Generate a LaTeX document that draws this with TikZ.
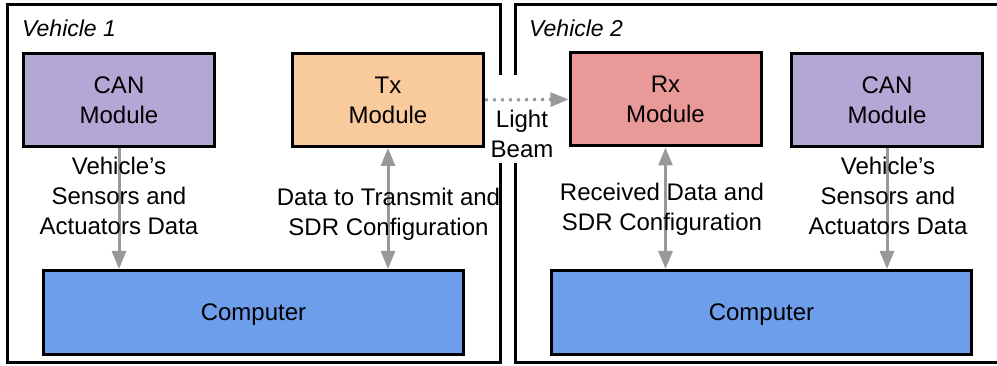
\documentclass[tikz,border=0pt]{standalone}
\usepackage{fontspec}
\setmainfont{Liberation Sans}
\usetikzlibrary{arrows.meta}
\definecolor{canpurple}{HTML}{B4A7D6}
\definecolor{txorange}{HTML}{F9CB9C}
\definecolor{rxred}{HTML}{EA9999}
\definecolor{compblue}{HTML}{6D9EEB}
\definecolor{linkgray}{HTML}{999999}
\begin{document}
\begin{tikzpicture}[x=1pt,y=-1pt,
  every node/.style={font=\fontsize{24}{30}\selectfont, align=center, inner sep=0pt},
  unit/.style={draw=black, line width=3pt, minimum width=191pt, minimum height=93pt},
  comp/.style={draw=black, line width=3pt, fill=compblue, minimum width=420pt, minimum height=84pt, text depth=0pt},
  frame/.style={draw=black, line width=3pt},
  vlabel/.style={anchor=west, font=\fontsize{23}{28}\selectfont\itshape},
  link/.style={draw=linkgray, line width=3pt, -{Triangle[width=14pt,length=18pt]}},
  duplex/.style={draw=linkgray, line width=3pt, {Triangle[width=14pt,length=18pt]}-{Triangle[width=14pt,length=18pt]}},
  beam/.style={draw=linkgray, line width=3pt, dash pattern=on 3pt off 5pt, -{Triangle[width=14pt,length=18pt]}},
]
\useasboundingbox (0,0) rectangle (997,366);

% vehicle frames
\draw[frame] (7,5) rectangle (500,363);
\draw[frame] (1005,5) -- (515,5) -- (515,363) -- (1005,363);
% gap in the frames behind the light beam label
\fill[white] (494,75) rectangle (521,163);

% vehicle 1
\node[vlabel] (v1) at (22,28) {Vehicle 1};
\node[unit, fill=canpurple] (can1) at (119,100) {CAN\\Module};
\node[unit, fill=txorange] (tx) at (388,100) {Tx\\Module};
\node[comp] (comp1) at (253.5,312.5) {Computer};

% vehicle 2
\node[vlabel] (v2) at (529,28) {Vehicle 2};
\node[unit, fill=rxred] (rx) at (665.5,99.5) {Rx\\Module};
\node[unit, fill=canpurple] (can2) at (887,100) {CAN\\Module};
\node[comp] (comp2) at (761.5,312.5) {Computer};

% data links
\draw[link] (can1.south) -- (can1.south |- comp1.north);
\draw[duplex] (tx.south) -- (tx.south |- comp1.north);
\draw[duplex] (rx.south) -- (rx.south |- comp2.north);
\draw[link] (can2.south) -- (can2.south |- comp2.north);

% optical link
\draw[beam] (tx.east) -- (rx.west);
\node (lb) at (522,134) {Light\\Beam};

% link labels
\node (l1) at (119,196) {Vehicle’s\\Sensors and\\Actuators Data};
\node (l2) at (388.5,214) {Data to Transmit and\\SDR Configuration};
\node (l3) at (662,209) {Received Data and\\SDR Configuration};
\node (l4) at (888,196) {Vehicle’s\\Sensors and\\Actuators Data};
\end{tikzpicture}
\end{document}
